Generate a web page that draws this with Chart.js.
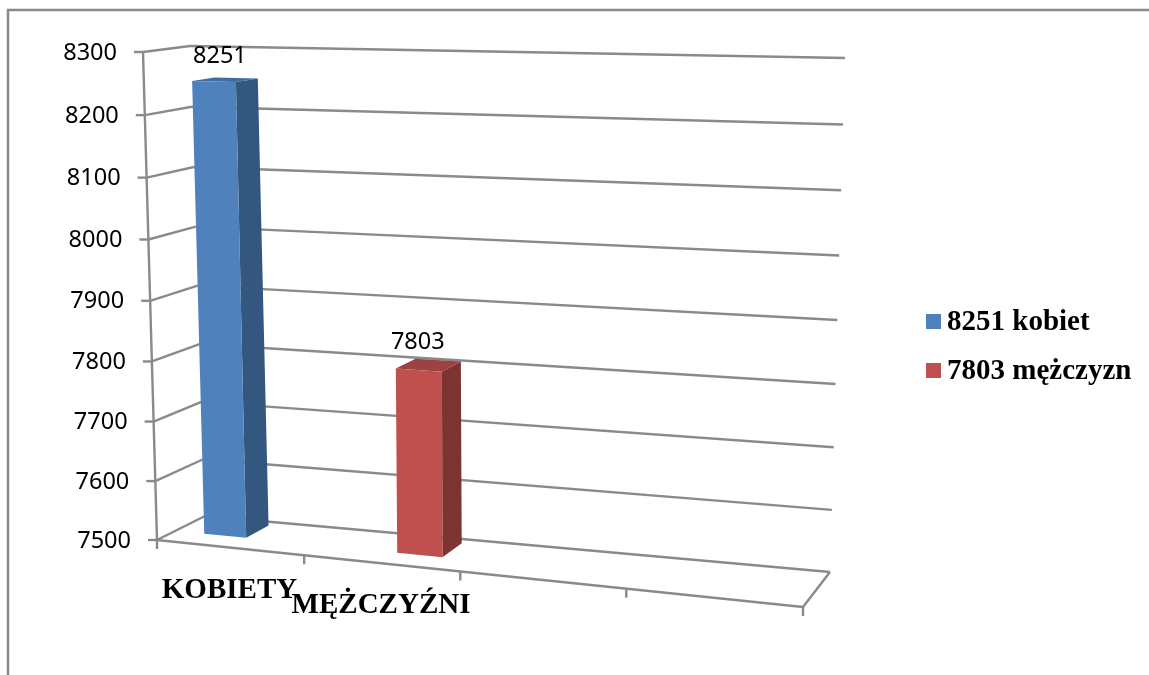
<!DOCTYPE html>
<html>
<head>
<meta charset="utf-8">
<script src="https://cdn.jsdelivr.net/npm/chart.js@4"></script>
<style>
    html, body { margin: 0; padding: 0; background: #fff; overflow: hidden; }
    canvas { display: block; }
</style>
</head>
<body>
<canvas id="genderChart" width="1149" height="675"></canvas>
<script>
// chart data
const categories = ['KOBIETY', 'MĘŻCZYŹNI', '', ''];
const seriesNames = ['8251 kobiet', '7803 mężczyzn'];
const kobiety = [8251, null, null, null];
const mezczyzni = [null, 7803, null, null];
const seriesColors = ['#4f81bd', '#c0504d'];
const sideColors = ['#33577f', '#7d3331'];
const topColors = ['#416c9f', '#9c4240'];

const yMin = 7500;
const yMax = 8300;
const yStep = 100;

// corners of the 3d box on the page (f = front, b = back, l/r, top/bottom)
const box = {
    fbl: [157, 540], fbr: [803, 607], fbrTop: [820, 66], ftl: [143, 52],
    bbl: [205, 516], bbr: [830, 572], btl: [190, 46], btr: [845, 58]
};
const barDepth = [0.38, 0.87];
const valueNudge = [[6, -19], [-1, -21]];
const gridColor = '#8a8a8a';

function lerp(a, b, t) {
    return [a[0] + (b[0] - a[0]) * t, a[1] + (b[1] - a[1]) * t];
}

// u across, v up, d into the page, all 0..1
function project(u, v, d) {
    const pu = u / (1 + 0.13 * (1 - u));
    const pv = v / (1 + 0.04 * (1 - v));
    const frontBottom = lerp(box.fbl, box.fbr, pu);
    const backBottom = lerp(box.bbl, box.bbr, pu);
    const frontTop = lerp(box.ftl, box.fbrTop, pu);
    const backTop = lerp(box.btl, box.btr, pu);
    return lerp(lerp(frontBottom, backBottom, d), lerp(frontTop, backTop, d), pv);
}

function line(ctx, a, b) {
    ctx.beginPath();
    ctx.moveTo(a[0], a[1]);
    ctx.lineTo(b[0], b[1]);
    ctx.stroke();
}

function poly(ctx, pts, color) {
    ctx.fillStyle = color;
    ctx.beginPath();
    pts.forEach((p, i) => i ? ctx.lineTo(p[0], p[1]) : ctx.moveTo(p[0], p[1]));
    ctx.closePath();
    ctx.fill();
}

const box3d = {
    id: 'box3d',
    beforeDraw(chart) {
        const ctx = chart.ctx;
        const xs = chart.scales.x;
        const ys = chart.scales.y;
        const vOf = value => (ys.bottom - ys.getPixelForValue(value)) / (ys.bottom - ys.top);

        ctx.save();
        // outer frame, runs off the page on the right and bottom
        ctx.strokeStyle = gridColor;
        ctx.lineWidth = 2.5;
        ctx.beginPath();
        ctx.moveTo(8, 675);
        ctx.lineTo(8, 10);
        ctx.lineTo(1149, 10);
        ctx.stroke();

        ctx.lineWidth = 2.4;
        // walls
        ys.ticks.forEach(tick => {
            const v = vOf(tick.value);
            const front = project(0, v, 0);
            const corner = project(0, v, 1);
            line(ctx, [front[0] - 9, front[1]], front);
            line(ctx, front, corner);
            line(ctx, corner, project(1, v, 1));

            ctx.fillStyle = '#000';
            ctx.font = '23.5px "Noto Sans"';
            ctx.textAlign = 'right';
            ctx.textBaseline = 'middle';
            ctx.fillText(String(tick.value), front[0] - 26, front[1] + 1);
        });
        line(ctx, project(0, 0, 0), project(0, 1, 0));

        // floor
        line(ctx, project(0, 0, 0), project(1, 0, 0));
        line(ctx, project(1, 0, 0), project(1, 0, 1));
        categories.forEach((name, i) => {
            const slot = xs.width / categories.length;
            const u = (xs.getPixelForValue(i) + slot / 2 - xs.left) / xs.width;
            const p = project(u, 0, 0);
            line(ctx, p, [p[0], p[1] + 9]);
            if (i === 0) {
                const p0 = project(0, 0, 0);
                line(ctx, p0, [p0[0], p0[1] + 9]);
            }
            if (name) {
                const mid = project((xs.getPixelForValue(i) - xs.left) / xs.width, 0, 0);
                ctx.fillStyle = '#000';
                ctx.font = 'bold 29px "Liberation Serif"';
                ctx.textAlign = 'center';
                ctx.textBaseline = 'alphabetic';
                ctx.fillText(name, mid[0], mid[1] + 50);
            }
        });

        // legend
        seriesNames.forEach((name, i) => {
            ctx.fillStyle = seriesColors[i];
            ctx.fillRect(926, 314 + i * 49, 15, 15);
            ctx.fillStyle = '#000';
            ctx.font = 'bold 29px "Liberation Serif"';
            ctx.textAlign = 'left';
            ctx.textBaseline = 'alphabetic';
            ctx.fillText(name, 947, 330 + i * 49);
        });
        ctx.restore();
    },
    // bars are laid out by chart.js and only projected here
    beforeDatasetDraw(chart, args) {
        const ctx = chart.ctx;
        const xs = chart.scales.x;
        const ys = chart.scales.y;
        const i = args.index;
        args.meta.data.forEach((el, n) => {
            if (chart.data.datasets[i].data[n] == null) {
                return;
            }
            const u0 = (el.x - el.width / 2 - xs.left) / xs.width;
            const u1 = (el.x + el.width / 2 - xs.left) / xs.width;
            const v = (ys.bottom - el.y) / (ys.bottom - ys.top);
            const d0 = barDepth[0];
            const d1 = barDepth[1];

            poly(ctx, [project(u0, v, d0), project(u1, v, d0), project(u1, v, d1), project(u0, v, d1)], topColors[i]);
            poly(ctx, [project(u1, 0, d0), project(u1, v, d0), project(u1, v, d1), project(u1, 0, d1)], sideColors[i]);
            poly(ctx, [project(u0, 0, d0), project(u0, v, d0), project(u1, v, d0), project(u1, 0, d0)], seriesColors[i]);

            const a = project((u0 + u1) / 2, v, d0);
            ctx.fillStyle = '#000';
            ctx.font = '23.5px "Noto Sans"';
            ctx.textAlign = 'center';
            ctx.textBaseline = 'alphabetic';
            ctx.fillText(String(chart.data.datasets[i].data[n]), a[0] + valueNudge[i][0], a[1] + valueNudge[i][1]);
        });
        return false;
    }
};

new Chart(document.getElementById('genderChart').getContext('2d'), {
    type: 'bar',
    data: {
        labels: categories,
        datasets: [
            { label: seriesNames[0], data: kobiety, backgroundColor: seriesColors[0], categoryPercentage: 0.6, barPercentage: 0.97 },
            { label: seriesNames[1], data: mezczyzni, backgroundColor: seriesColors[1], categoryPercentage: 0.6, barPercentage: 0.97 }
        ]
    },
    options: {
        responsive: false,
        animation: false,
        layout: { padding: { left: 150, right: 300, top: 50, bottom: 100 } },
        plugins: {
            legend: { display: false },
            tooltip: { enabled: false }
        },
        scales: {
            x: {
                grid: { display: false },
                border: { display: false },
                ticks: { display: false }
            },
            y: {
                min: yMin,
                max: yMax,
                grid: { display: false },
                border: { display: false },
                ticks: { display: false, stepSize: yStep }
            }
        }
    },
    plugins: [box3d]
});
</script>
</body>
</html>
